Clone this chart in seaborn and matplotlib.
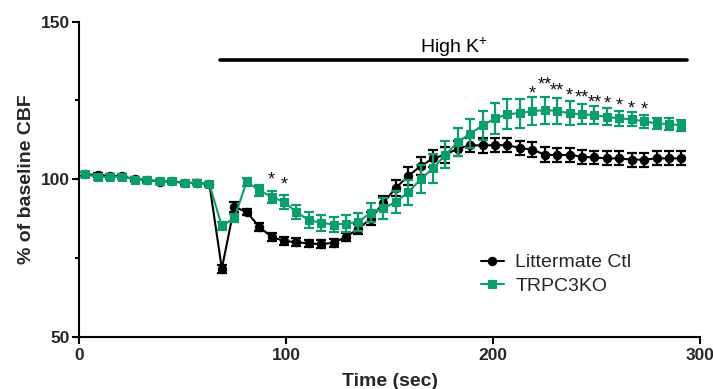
import numpy as np
import pandas as pd
import matplotlib
matplotlib.use("Agg")
import matplotlib.pyplot as plt
import seaborn as sns

# ---------------- data ----------------
time_sec = [3, 9, 15, 21, 27, 33, 39, 45, 51, 57, 63, 69, 75, 81, 87, 93, 99, 105,
            111, 117, 123, 129, 135, 141, 147, 153, 159, 165, 171, 177, 183, 189,
            195, 201, 207, 213, 219, 225, 231, 237, 243, 249, 255, 261, 267, 273,
            279, 285, 291]

ctl_mean = [101.6, 101.3, 101.1, 100.9, 100.0, 99.8, 99.2, 99.4, 98.8, 98.9, 98.4,
            71.6, 91.2, 89.6, 84.9, 81.7, 80.4, 80.0, 79.6, 79.4, 79.8, 81.7, 84.3,
            87.5, 92.5, 97.2, 101.0, 104.1, 106.6, 107.8, 109.7, 110.8, 110.7, 110.8,
            110.8, 109.9, 109.4, 107.8, 107.6, 107.8, 107.1, 106.9, 106.6, 106.6,
            106.2, 106.2, 106.6, 106.6, 106.6]
ctl_sem = [0.7, 0.7, 0.7, 0.7, 0.7, 0.7, 0.7, 0.7, 0.7, 0.7, 0.7,
           1.3, 1.5, 1.0, 1.3, 1.3, 1.3, 1.2, 1.2, 1.2, 1.2, 1.3, 1.6,
           2.0, 2.3, 2.6, 2.8, 2.8, 2.6, 2.5, 2.4, 2.3, 2.3, 2.3,
           2.3, 2.3, 2.3, 2.3, 2.2, 2.2, 2.2, 2.2, 2.2, 2.2,
           2.2, 2.2, 2.2, 2.2, 2.2]

ko_mean = [101.6, 100.7, 100.8, 100.8, 99.9, 99.7, 99.4, 99.3, 98.7, 98.9, 98.4,
           85.1, 87.7, 99.2, 96.5, 94.4, 92.8, 89.6, 87.0, 86.2, 85.6, 85.9, 86.5,
           89.4, 90.7, 92.8, 95.8, 100.0, 103.4, 107.8, 111.8, 114.5, 117.1, 119.3,
           120.6, 121.0, 121.6, 121.9, 121.7, 120.9, 120.6, 120.3, 119.8, 119.3,
           119.0, 118.4, 117.7, 117.5, 117.1]
ko_sem = [0.8, 0.8, 0.8, 0.8, 0.8, 0.8, 0.8, 0.8, 0.8, 0.8, 0.8,
          1.2, 1.2, 1.3, 1.8, 2.0, 2.2, 2.3, 2.5, 2.5, 2.5, 2.6, 2.8,
          3.0, 3.4, 3.6, 4.0, 4.5, 4.6, 4.3, 4.3, 4.5, 4.7, 5.0,
          4.8, 4.6, 4.5, 4.3, 4.2, 3.8, 3.2, 2.9, 2.7, 2.4,
          2.2, 2.0, 1.8, 1.8, 1.8]

group_names = ["Littermate Ctl", "TRPC3KO"]

star_x = [93, 99, 219, 225, 231, 237, 243, 249, 255, 261, 267, 273]
star_y = [101.3, 99.7, 128.5, 131.4, 129.5, 128.0, 127.2, 125.9, 125.6, 124.9, 124.0, 123.5]
star_txt = ["*", "*", "*", "**", "**", "*", "**", "**", "*", "*", "*", "*"]

stim_start, stim_end, stim_level = 68, 293.5, 138.0
stim_label = "High K$^{+}$"

x_ticks = [0, 100, 200, 300]
y_ticks = [50, 100, 150]
y_minor = [75, 125]

# ---------------- style ----------------
sns.set_theme(style="ticks")
plt.rcParams["font.family"] = ["Liberation Sans", "DejaVu Sans"]
plt.rcParams["mathtext.fontset"] = "custom"
plt.rcParams["mathtext.rm"] = "Liberation Sans"
plt.rcParams["mathtext.default"] = "regular"

BLACK = "#000000"
GREEN = "#0b9e6c"
colors = {group_names[0]: BLACK, group_names[1]: GREEN}

df = pd.DataFrame({
    "time": time_sec * 2,
    "value": ctl_mean + ko_mean,
    "group": [group_names[0]] * len(time_sec) + [group_names[1]] * len(time_sec),
})

fig = plt.figure(figsize=(7.13, 3.89), dpi=100)
ax = fig.add_axes([79 / 713, 1 - 336.7 / 389, 621 / 713, 315 / 389])

sns.lineplot(data=df, x="time", y="value", hue="group", style="group",
             hue_order=group_names, style_order=group_names,
             palette=colors, markers={group_names[0]: "o", group_names[1]: "s"},
             dashes=False, markersize=6, linewidth=1.5, legend=False, ax=ax,
             markeredgewidth=0.8)

line_ctl, line_ko = ax.lines[0], ax.lines[1]
line_ctl.set_zorder(3)
line_ko.set_zorder(5)
line_ko.set_markersize(6.2)
for ln, c in ((line_ctl, BLACK), (line_ko, GREEN)):
    ln.set_markeredgecolor(c)
    ln.set_markerfacecolor(c)
    ln.set_clip_on(False)

ax.errorbar(time_sec, ctl_mean, yerr=ctl_sem, fmt="none", ecolor=BLACK,
            elinewidth=1.6, capsize=3.6, capthick=1.6, zorder=2.5)
ax.errorbar(time_sec, ko_mean, yerr=ko_sem, fmt="none", ecolor=GREEN,
            elinewidth=1.6, capsize=3.6, capthick=1.6, zorder=4.5)

# significance stars (glyph centre -> baseline)
for sx, sy, st in zip(star_x, star_y, star_txt):
    ax.text(sx, sy - 3.0, st, ha="center", va="baseline", fontsize=13,
            color="#111111", zorder=6)

# stimulus bar
ax.plot([stim_start, stim_end], [stim_level, stim_level], color=BLACK,
        linewidth=2.6, solid_capstyle="round", clip_on=False)
ax.text((stim_start + stim_end) / 2 + 0.5, stim_level + 2.2, stim_label,
        ha="center", va="baseline", fontsize=14, color=BLACK)

# axes
ax.set_xlim(0, 300)
ax.set_ylim(50, 150)
ax.set_xticks(x_ticks)
ax.set_yticks(y_ticks)
ax.set_yticks(y_minor, minor=True)
ax.tick_params(axis="both", which="major", direction="out", length=5, width=1.5,
               labelsize=12.5, pad=1.5, color=BLACK)
ax.tick_params(axis="x", which="major", pad=3)
ax.tick_params(axis="y", which="minor", direction="out", length=3, width=1.5, color=BLACK)
for lab in ax.get_xticklabels() + ax.get_yticklabels():
    lab.set_fontweight("bold")
for s in ("left", "bottom"):
    ax.spines[s].set_linewidth(1.5)
    ax.spines[s].set_color(BLACK)
sns.despine(ax=ax)

ax.set_xlabel("Time (sec)", fontsize=14, fontweight="bold", labelpad=7)
ax.set_ylabel("% of baseline CBF", fontsize=14, fontweight="bold")
ax.yaxis.set_label_coords(-0.071, 0.5)

leg = ax.legend([line_ctl, line_ko], group_names, loc="upper left",
                bbox_to_anchor=(0.647, 0.263), frameon=False, fontsize=14,
                handlelength=1.17, handletextpad=0.6, labelspacing=0.3,
                borderpad=0, borderaxespad=0)

fig.savefig("out.png", dpi=100)
